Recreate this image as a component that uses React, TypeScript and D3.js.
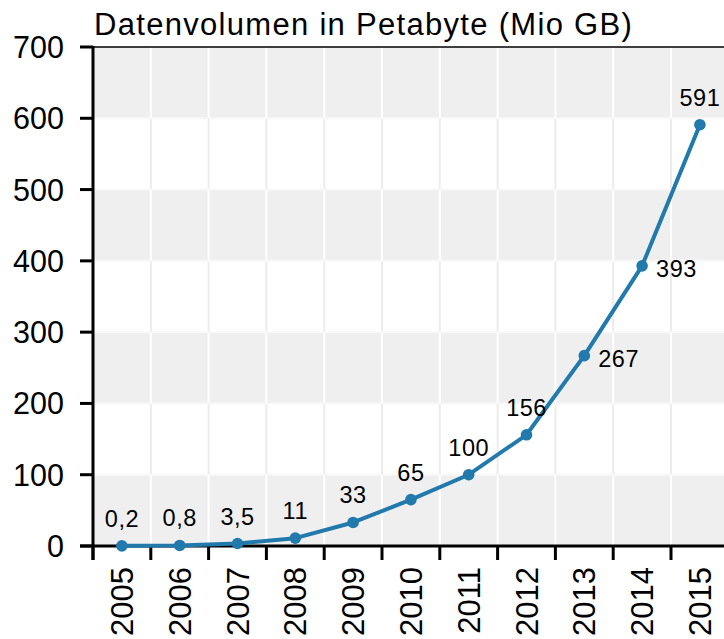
import React from "react";
import * as d3 from "d3";

const years = ["2005","2006","2007","2008","2009","2010","2011","2012","2013","2014","2015"];
const values = [0.2, 0.8, 3.5, 11, 33, 65, 100, 156, 267, 393, 591];
const valueLabels = ["0,2","0,8","3,5","11","33","65","100","156","267","393","591"];
const labelRight = [false,false,false,false,false,false,false,false,true,true,false];
const yTicks = [0,100,200,300,400,500,600,700];
const title = "Datenvolumen in Petabyte (Mio GB)";

const W = 724, H = 639;
const FONT = "'Liberation Sans', Arial, sans-serif";
const BLUE = "#2179ac";

export default function App() {
  const x = d3.scaleBand<string>().domain(years).range([93, 93 + 57.8 * 11]).padding(0);
  const y = d3.scaleLinear().domain([0, 700]).range([546, 47]);
  const cx = (i: number) => (x(years[i]) as number) + x.bandwidth() / 2;
  const line = d3.line<number>().x((_, i) => cx(i)).y((d) => y(d));
  const x0 = x.range()[0], x1 = x.range()[1];
  const bands = yTicks.slice(0, -1).map((t, i) => ({ lo: t, hi: yTicks[i + 1], gray: (yTicks.length - 2 - i) % 2 === 0 }));
  const bounds = years.map((yr) => x(yr) as number).concat([x1]);

  return (
    <svg width={W} height={H} style={{ position: "absolute", left: 0, top: 0, background: "#fff" }}>
      {bands.map((b, i) => (
        <rect key={"b" + i} x={x0} y={y(b.hi)} width={x1 - x0} height={y(b.lo) - y(b.hi)} fill={b.gray ? "#efefef" : "#ffffff"} />
      ))}
      {bands.map((b, i) =>
        bounds.slice(1).map((bx, j) => (
          <line key={"v" + i + "-" + j} x1={bx} x2={bx} y1={y(b.hi)} y2={y(b.lo)} stroke={b.gray ? "#ffffff" : "#ececec"} strokeWidth={2} />
        ))
      )}
      {yTicks.slice(1, -1).map((t) => (
        <line key={"h" + t} x1={x0} x2={x1} y1={y(t)} y2={y(t)} stroke="#f8f8f8" strokeWidth={2} />
      ))}
      <line x1={x0} x2={x1} y1={y(700)} y2={y(700)} stroke="#000" strokeWidth={1.5} />
      {yTicks.map((t) => (
        <g key={"yt" + t}>
          <line x1={80} x2={x0} y1={y(t)} y2={y(t)} stroke="#000" strokeWidth={3} />
          <text x={64} y={y(t)} dy="0.36em" textAnchor="end" fontSize={30.5} fontFamily={FONT} fill="#000">{t}</text>
        </g>
      ))}
      {bounds.map((bx, j) => (
        <line key={"xt" + j} x1={bx} x2={bx} y1={y(0)} y2={560} stroke="#000" strokeWidth={3} />
      ))}
      <line x1={x0} x2={x0} y1={y(700) - 1} y2={560} stroke="#000" strokeWidth={3} />
      <line x1={80} x2={x1} y1={y(0)} y2={y(0)} stroke="#000" strokeWidth={3} />
      {years.map((yr, i) => (
        <text key={"xl" + yr} transform={`translate(${cx(i)},567) rotate(-90)`} dy="0.36em" textAnchor="end" fontSize={31} fontFamily={FONT} fill="#000">{yr}</text>
      ))}
      <path d={line(values) || ""} fill="none" stroke={BLUE} strokeWidth={4} strokeLinejoin="round" />
      {values.map((v, i) => (
        <circle key={"c" + i} cx={cx(i)} cy={y(v)} r={5.8} fill={BLUE} />
      ))}
      {values.map((v, i) =>
        labelRight[i] ? (
          <text key={"vl" + i} x={cx(i) + 14} y={y(v) + 11} textAnchor="start" fontSize={23.5} letterSpacing={0.5} fontFamily={FONT} fill="#000">{valueLabels[i]}</text>
        ) : (
          <text key={"vl" + i} x={cx(i)} y={y(v) - 19} textAnchor="middle" fontSize={23.5} letterSpacing={0.5} fontFamily={FONT} fill="#000">{valueLabels[i]}</text>
        )
      )}
      <text x={94} y={35} fontSize={31} letterSpacing={1.3} fontFamily={FONT} fill="#000">{title}</text>
    </svg>
  );
}
